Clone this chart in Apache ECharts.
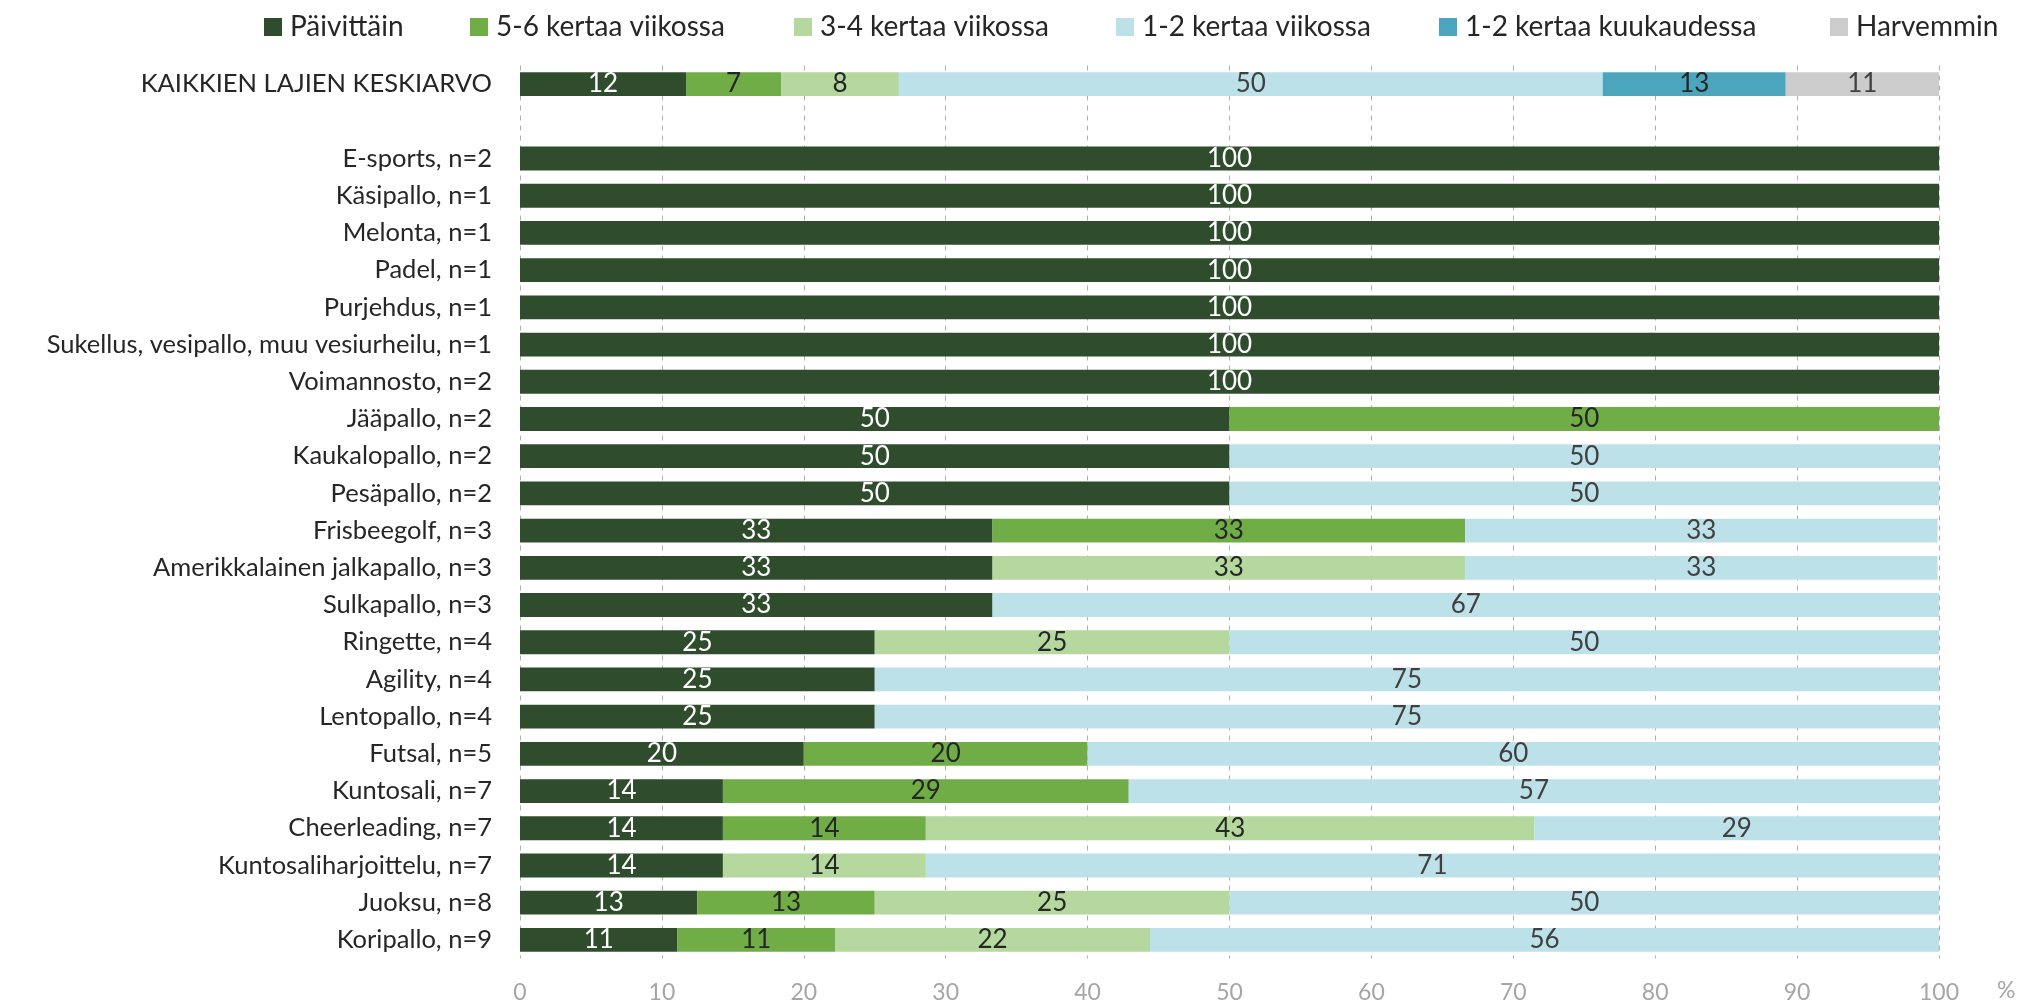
<!DOCTYPE html>
<html>
<head>
<meta charset="utf-8">
<title>Harjoittelutiheys lajeittain</title>
<script src="https://cdn.jsdelivr.net/npm/echarts@6/dist/echarts.min.js"></script>
<style>
  html, body { margin: 0; padding: 0; background: #ffffff; }
  #chart { width: 2039px; height: 1006px; }
</style>
</head>
<body>
<div id="chart"></div>
<script>
// Lajit ylhäältä alas; tyhjä rivi erottaa keskiarvon lajeista
const categories = [
  'KAIKKIEN LAJIEN KESKIARVO', '',
  'E-sports, n=2', 'Käsipallo, n=1', 'Melonta, n=1', 'Padel, n=1', 'Purjehdus, n=1',
  'Sukellus, vesipallo, muu vesiurheilu, n=1', 'Voimannosto, n=2', 'Jääpallo, n=2',
  'Kaukalopallo, n=2', 'Pesäpallo, n=2', 'Frisbeegolf, n=3', 'Amerikkalainen jalkapallo, n=3',
  'Sulkapallo, n=3', 'Ringette, n=4', 'Agility, n=4', 'Lentopallo, n=4', 'Futsal, n=5',
  'Kuntosali, n=7', 'Cheerleading, n=7', 'Kuntosaliharjoittelu, n=7', 'Juoksu, n=8', 'Koripallo, n=9'
];

const seriesNames = [
  'Päivittäin', '5-6 kertaa viikossa', '3-4 kertaa viikossa',
  '1-2 kertaa viikossa', '1-2 kertaa kuukaudessa', 'Harvemmin'
];

// Osuudet prosentteina (null = ei vastauksia)
const paivittain = [11.7, null, 100, 100, 100, 100, 100, 100, 100, 50, 50, 50, 33.3, 33.3, 33.3, 25, 25, 25, 20, 14.3, 14.3, 14.3, 12.5, 11.1];
const kertaa56  = [6.7, null, null, null, null, null, null, null, null, 50, null, null, 33.3, null, null, null, null, null, 20, 28.6, 14.3, null, 12.5, 11.1];
const kertaa34  = [8.3, null, null, null, null, null, null, null, null, null, null, null, null, 33.3, null, 25, null, null, null, null, 42.9, 14.3, 25, 22.2];
const viikossa12 = [49.6, null, null, null, null, null, null, null, null, null, 50, 50, 33.3, 33.3, 66.7, 50, 75, 75, 60, 57.1, 28.6, 71.4, 50, 55.6];
const kuukaudessa12 = [12.9, null, null, null, null, null, null, null, null, null, null, null, null, null, null, null, null, null, null, null, null, null, null, null];
const harvemmin = [10.8, null, null, null, null, null, null, null, null, null, null, null, null, null, null, null, null, null, null, null, null, null, null, null];

const xTicks = [0, 10, 20, 30, 40, 50, 60, 70, 80, 90, 100];

const seriesData = [paivittain, kertaa56, kertaa34, viikossa12, kuukaudessa12, harvemmin];
const colors = ['#2f4d2d', '#70ad47', '#b4d89d', '#bde1e9', '#4ba6bd', '#cccccc'];
const labelColors = ['#ffffff', '#262626', '#262626', '#404040', '#262626', '#404040'];
const legendLeft = [259, 465, 789, 1111, 1434, 1825];

const FONT = 'Lato, "Open Sans", sans-serif';

const chart = echarts.init(document.getElementById('chart'), null, { renderer: 'canvas' });

const series = seriesNames.map((name, i) => ({
  name: name,
  type: 'bar',
  stack: 'total',
  barWidth: '64%',
  itemStyle: { color: colors[i] },
  emphasis: { disabled: true },
  label: {
    show: true,
    position: 'inside',
    color: labelColors[i],
    fontFamily: FONT,
    fontSize: 26,
    formatter: p => (p.value == null || p.value === 0) ? '' : String(Math.round(p.value))
  },
  data: seriesData[i]
}));

const legends = seriesNames.map((name, i) => ({
  data: [name],
  left: legendLeft[i],
  top: 8,
  icon: 'rect',
  itemWidth: 18,
  itemHeight: 18,
  selectedMode: false,
  textStyle: {
    fontFamily: FONT,
    fontSize: 28,
    color: '#262626',
    padding: [0, 0, 0, 3]
  }
}));

chart.setOption({
  backgroundColor: '#ffffff',
  animation: false,
  textStyle: { fontFamily: FONT },
  legend: legends,
  grid: { left: 520, right: 100, top: 65.5, bottom: 47.5, containLabel: false },
  xAxis: {
    type: 'value',
    min: xTicks[0],
    max: xTicks[xTicks.length - 1],
    interval: xTicks[1] - xTicks[0],
    axisLine: { show: false },
    axisTick: { show: false },
    axisLabel: { color: '#a6a6a6', fontFamily: FONT, fontSize: 23, margin: 23 },
    splitLine: { show: true, lineStyle: { color: '#b0b0b0', width: 1, type: [5, 5] } }
  },
  yAxis: {
    type: 'category',
    inverse: true,
    data: categories,
    axisLine: { show: false },
    axisTick: { show: false },
    axisLabel: { color: '#262626', fontFamily: FONT, fontSize: 25.5, margin: 28 }
  },
  graphic: [{
    type: 'text',
    left: 1997,
    top: 979,
    style: { text: '%', fill: '#a6a6a6', font: '23px ' + FONT }
  }],
  series: series
});
</script>
</body>
</html>
